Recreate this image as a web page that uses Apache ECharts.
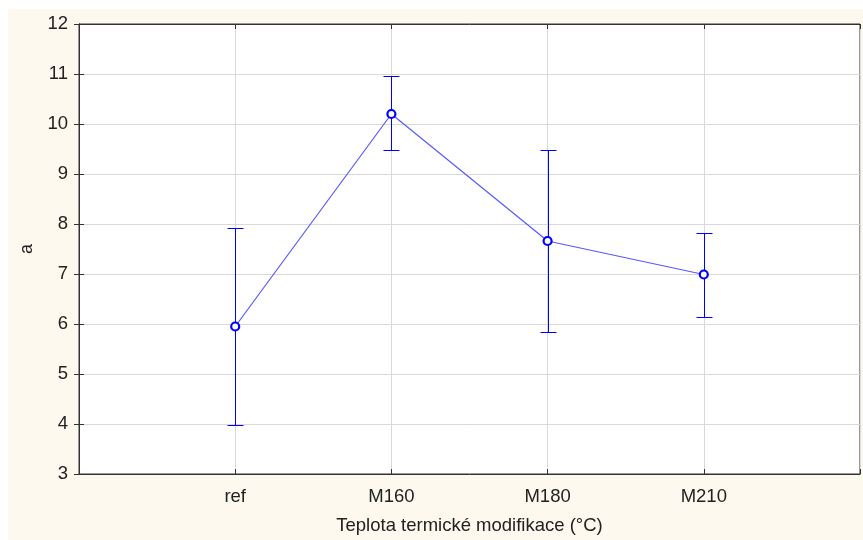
<!DOCTYPE html>
<html>
<head>
<meta charset="utf-8">
<script src="https://cdn.jsdelivr.net/npm/echarts@6/dist/echarts.min.js"></script>
<style>
  html, body { margin: 0; padding: 0; background: #fff; }
  #chart { width: 863px; height: 540px; }
</style>
</head>
<body>
<div id="chart"></div>
<script>
// kategorie na ose x (pozice 1..4)
const categories = ["ref", "M160", "M180", "M210"];
const means = [5.95, 10.2, 7.66, 6.99];
const upper = [7.93, 10.96, 9.47, 7.82];
const lower = [3.98, 9.49, 5.85, 6.15];
const yTicks = [3, 4, 5, 6, 7, 8, 9, 10, 11, 12];

const pointData = means.map((v, i) => [i + 1, v]);
const errData = means.map((v, i) => [i + 1, lower[i], upper[i]]);

const chart = echarts.init(document.getElementById("chart"));
const font = "'Liberation Sans', Arial, sans-serif";
const tickStyle = { show: true, inside: true, length: 5, lineStyle: { color: "#333" } };

const option = {
  backgroundColor: "#fff",
  animation: false,
  graphic: [{
    type: "rect", z: -10, silent: true,
    shape: { x: 8, y: 9, width: 855, height: 531 },
    style: { fill: "#fdf9ef" }
  }],
  grid: {
    left: 79, right: -1, top: 24, bottom: 65,
    show: true, backgroundColor: "#fff", borderColor: "#333", borderWidth: 1
  },
  xAxis: [{
    type: "value", min: 0, max: 5, interval: 1,
    name: "Teplota termické modifikace (°C)",
    nameLocation: "middle", nameGap: 42,
    nameTextStyle: { fontFamily: font, fontSize: 18.5, color: "#222" },
    axisLine: { show: true, lineStyle: { color: "#333" } },
    axisTick: tickStyle,
    axisLabel: {
      margin: 13, fontFamily: font, fontSize: 18.5, color: "#222",
      formatter: v => categories[v - 1] || ""
    },
    splitLine: { show: true, lineStyle: { color: "#d9d9d9" } }
  }, {
    type: "value", position: "top", min: 0, max: 5, interval: 1,
    axisLine: { show: true, lineStyle: { color: "#333" } },
    axisTick: tickStyle, axisLabel: { show: false }, splitLine: { show: false }
  }],
  yAxis: [{
    type: "value", min: yTicks[0], max: yTicks[yTicks.length - 1], interval: 1,
    name: "a", nameLocation: "middle", nameGap: 42, nameRotate: 90,
    nameTextStyle: { fontFamily: font, fontSize: 18, color: "#222" },
    axisLine: { show: true, lineStyle: { color: "#333" } },
    axisTick: tickStyle,
    axisLabel: { margin: 11, fontFamily: font, fontSize: 18.5, color: "#222" },
    splitLine: { show: true, lineStyle: { color: "#d9d9d9" } }
  }, {
    type: "value", position: "right", min: 3, max: 12, interval: 1,
    axisLine: { show: true, lineStyle: { color: "#333" } },
    axisTick: tickStyle, axisLabel: { show: false }, splitLine: { show: false }
  }],
  series: [{
    type: "custom",
    data: errData,
    z: 3,
    renderItem: function (params, api) {
      const x = api.value(0);
      const lo = api.coord([x, api.value(1)]);
      const hi = api.coord([x, api.value(2)]);
      const cx = Math.round(lo[0]) + 0.5;
      const yl = Math.round(lo[1]) + 0.5;
      const yh = Math.round(hi[1]) + 0.5;
      const w = 8;
      const st = { stroke: "#0000ff", lineWidth: 1 };
      return {
        type: "group",
        children: [
          { type: "line", shape: { x1: cx, y1: yl, x2: cx, y2: yh }, style: st },
          { type: "line", shape: { x1: cx - w, y1: yh, x2: cx + w, y2: yh }, style: st },
          { type: "line", shape: { x1: cx - w, y1: yl, x2: cx + w, y2: yl }, style: st }
        ]
      };
    }
  }, {
    type: "line",
    data: pointData,
    z: 4,
    symbol: "circle",
    symbolSize: 8,
    lineStyle: { color: "#5858ff", width: 1.2 },
    itemStyle: { color: "#fff", borderColor: "#0000ff", borderWidth: 2.2 }
  }]
};
chart.setOption(option);
</script>
</body>
</html>
